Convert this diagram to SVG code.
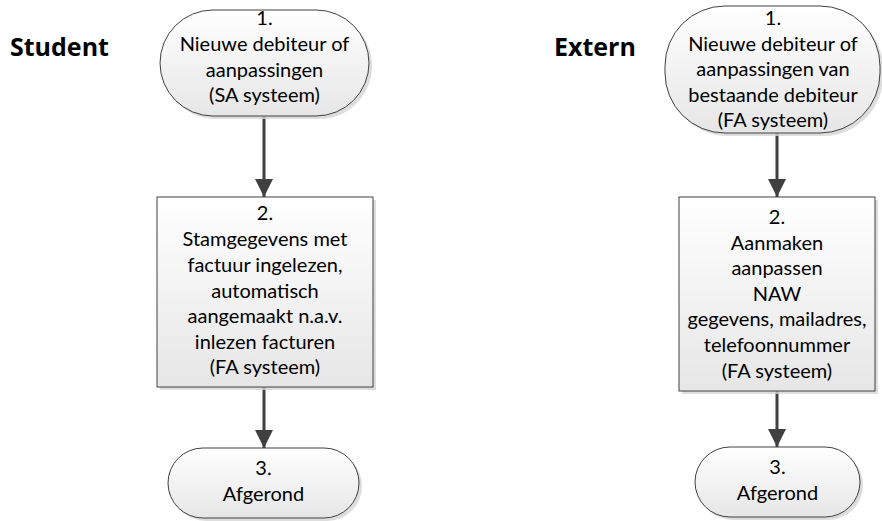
<svg xmlns="http://www.w3.org/2000/svg" width="882" height="521" viewBox="0 0 882 521">
  <defs>
    <linearGradient id="fill" x1="0" y1="0" x2="0" y2="1">
      <stop offset="0" stop-color="#ffffff"/>
      <stop offset="1" stop-color="#e6e6e6"/>
    </linearGradient>
    <marker id="arrow" viewBox="0 0 10 10" refX="10" refY="5" markerWidth="6" markerHeight="6" markerUnits="strokeWidth" orient="auto">
      <path d="M0,0 L10,5 L0,10 Z" fill="#404040"/>
    </marker>
  </defs>
  <style>
    .shape { fill: url(#fill); stroke: #404040; stroke-width: 1; }
    .shadow { fill: #d4d4d4; opacity: 0.8; }
    .label { font-family: "Lato", "Liberation Sans", sans-serif; font-size: 20px; fill: #000; text-anchor: middle; }
    .lane { font-family: "Open Sans", "Liberation Sans", sans-serif; font-size: 25px; font-weight: bold; fill: #000; }
    .conn { stroke: #404040; stroke-width: 3; fill: none; marker-end: url(#arrow); }
  </style>
  <rect width="882" height="521" fill="#ffffff"/>

  <text class="lane" x="10" y="56">Student</text>
  <text class="lane" x="554" y="56">Extern</text>

  <!-- connectors -->
  <g id="connectors">
    <line class="conn" x1="264" y1="116" x2="264" y2="197"/>
    <line class="conn" x1="264" y1="387" x2="264" y2="448"/>
    <line class="conn" x1="777" y1="133" x2="777" y2="197"/>
    <line class="conn" x1="777" y1="391" x2="777" y2="447"/>
  </g>

  <!-- Student flow -->
  <g id="s1">
    <rect class="shadow" x="163" y="13" width="209" height="106" rx="53"/>
    <rect class="shape" x="160" y="10" width="209" height="106" rx="53"/>
    <text class="label" x="264.5" y="25">1.</text>
    <text class="label" x="264.5" y="51">Nieuwe debiteur of</text>
    <text class="label" x="264.5" y="77">aanpassingen</text>
    <text class="label" x="264.5" y="102">(SA systeem)</text>
  </g>
  <g id="s2">
    <rect class="shadow" x="160" y="200" width="216" height="190"/>
    <rect class="shape" x="157" y="197" width="216" height="190"/>
    <text class="label" x="265" y="220">2.</text>
    <text class="label" x="265" y="246">Stamgegevens met</text>
    <text class="label" x="265" y="272">factuur ingelezen,</text>
    <text class="label" x="265" y="298">automatisch</text>
    <text class="label" x="265" y="323">aangemaakt n.a.v.</text>
    <text class="label" x="265" y="349">inlezen facturen</text>
    <text class="label" x="265" y="374">(FA systeem)</text>
  </g>
  <g id="s3">
    <rect class="shadow" x="171" y="451" width="191" height="70" rx="35"/>
    <rect class="shape" x="168" y="448" width="191" height="70" rx="35"/>
    <text class="label" x="263.5" y="475">3.</text>
    <text class="label" x="263.5" y="501">Afgerond</text>
  </g>

  <!-- Extern flow -->
  <g id="e1">
    <rect class="shadow" x="668" y="9" width="215" height="127" rx="60"/>
    <rect class="shape" x="665" y="6" width="215" height="127" rx="60"/>
    <text class="label" x="773" y="25">1.</text>
    <text class="label" x="773" y="51">Nieuwe debiteur of</text>
    <text class="label" x="773" y="76">aanpassingen van</text>
    <text class="label" x="773" y="102">bestaande debiteur</text>
    <text class="label" x="773" y="127">(FA systeem)</text>
  </g>
  <g id="e2">
    <rect class="shadow" x="682" y="200" width="196" height="194"/>
    <rect class="shape" x="679" y="197" width="196" height="194"/>
    <text class="label" x="777" y="224">2.</text>
    <text class="label" x="777" y="250">Aanmaken</text>
    <text class="label" x="777" y="275">aanpassen</text>
    <text class="label" x="777" y="301">NAW</text>
    <text class="label" x="777" y="326">gegevens, mailadres,</text>
    <text class="label" x="777" y="352">telefoonnummer</text>
    <text class="label" x="777" y="378">(FA systeem)</text>
  </g>
  <g id="e3">
    <rect class="shadow" x="698" y="450" width="165" height="70" rx="35"/>
    <rect class="shape" x="695" y="447" width="165" height="70" rx="35"/>
    <text class="label" x="777.5" y="474">3.</text>
    <text class="label" x="777.5" y="500">Afgerond</text>
  </g>
</svg>
